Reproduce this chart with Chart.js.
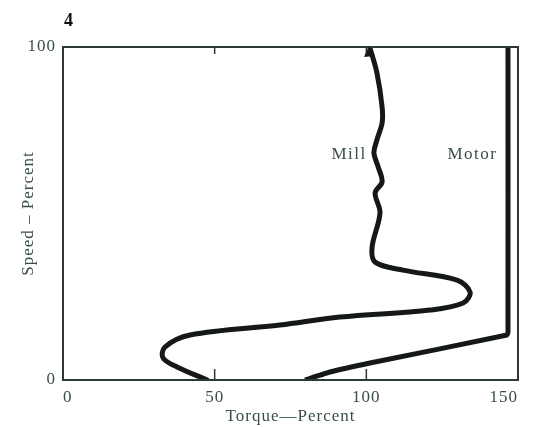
<!DOCTYPE html>
<html>
<head>
<meta charset="utf-8">
<script src="https://cdn.jsdelivr.net/npm/chart.js@4.4.0/dist/chart.umd.min.js"></script>
<style>
  html, body { margin: 0; padding: 0; background: #fff; }
  #wrap { width: 533px; height: 427px; }
</style>
</head>
<body>
<div id="wrap"><canvas id="speedTorque"></canvas></div>
<script>
// curva do moinho (torque %, velocidade %)
const millTorque = [47.5, 37.6, 33.0, 33.6, 41.9, 71.5, 91.3, 121.0, 131.9, 134.2, 129.9, 112.1, 102.9, 101.9, 104.5, 102.9, 105.2, 103.9, 102.5, 103.5, 105.2, 105.2, 103.5, 101.2];
const millSpeed  = [0, 3.9, 6.6, 9.9, 13.5, 16.5, 18.9, 21.0, 23.1, 26.4, 30.0, 33.0, 35.4, 39.9, 50.2, 56.2, 59.5, 64.0, 68.2, 72.1, 77.2, 82.0, 92.2, 99.7];

// curva do motor
const motorTorque = [79.8, 88.0, 101.2, 146.4, 146.7, 146.7];
const motorSpeed  = [0, 2.4, 5.1, 13.5, 14.4, 100];

const xTicks = [0, 50, 100, 150];
const yTicks = [0, 100];

const curveLabels  = ['Mill', 'Motor'];
const curveLabelX  = [94.3, 135.0];
const curveLabelY  = [67.6, 67.6];

const inkColor = '#151915';
const axisColor = '#2e3b32';
const textColor = '#3a5043';
const serif = "'Liberation Serif', 'DejaVu Serif', serif";

function toPoints(xs, ys) {
  return xs.map((x, i) => ({ x: x, y: ys[i] }));
}

// espaçamento entre letras, como no original impresso
const spacingPlugin = {
  id: 'spacing',
  beforeLayout(chart) { chart.ctx.letterSpacing = '1px'; },
  beforeDraw(chart) { chart.ctx.letterSpacing = '1px'; }
};

// moldura, tiques internos, setas e rótulos
const framePlugin = {
  id: 'frame',
  afterDatasetsDraw(chart) {
    const { ctx, chartArea, scales } = chart;
    const xs = scales.x, ys = scales.y;
    ctx.save();
    ctx.strokeStyle = axisColor;
    ctx.lineWidth = 2;
    ctx.strokeRect(chartArea.left, chartArea.top, chartArea.right - chartArea.left, chartArea.bottom - chartArea.top);

    // tiques para dentro em 50 e 100
    ctx.lineWidth = 1.5;
    [50, 100].forEach(v => {
      const px = xs.getPixelForValue(v);
      ctx.beginPath();
      ctx.moveTo(px, chartArea.bottom);
      ctx.lineTo(px, chartArea.bottom - 11);
      ctx.moveTo(px, chartArea.top);
      ctx.lineTo(px, chartArea.top + 7);
      ctx.stroke();
    });

    // seta no topo da curva do moinho
    const meta = chart.getDatasetMeta(0);
    const last = meta.data[meta.data.length - 1];
    ctx.fillStyle = inkColor;
    ctx.beginPath();
    ctx.moveTo(last.x - 1, last.y - 2);
    ctx.lineTo(last.x - 6, last.y + 9);
    ctx.lineTo(last.x + 5, last.y + 8);
    ctx.closePath();
    ctx.fill();

    // rótulos das curvas
    ctx.fillStyle = textColor;
    ctx.letterSpacing = '1.5px';
    ctx.font = '17px ' + serif;
    ctx.textAlign = 'center';
    ctx.textBaseline = 'middle';
    curveLabels.forEach((t, i) => {
      ctx.fillText(t, xs.getPixelForValue(curveLabelX[i]), ys.getPixelForValue(curveLabelY[i]));
    });

    // número da figura
    ctx.letterSpacing = '0px';
    ctx.fillStyle = '#111';
    ctx.font = 'bold 18px ' + serif;
    ctx.textAlign = 'left';
    ctx.fillText('4', chartArea.left + 1, 21);
    ctx.restore();
  }
};

const ctx = document.getElementById('speedTorque').getContext('2d');
new Chart(ctx, {
  type: 'scatter',
  data: {
    datasets: [
      {
        label: 'Mill',
        data: toPoints(millTorque, millSpeed),
        showLine: true,
        borderColor: inkColor,
        borderWidth: 5,
        pointRadius: 0,
        tension: 0.35,
        borderCapStyle: 'round',
        borderJoinStyle: 'round'
      },
      {
        label: 'Motor',
        data: toPoints(motorTorque, motorSpeed),
        showLine: true,
        borderColor: inkColor,
        borderWidth: 5,
        pointRadius: 0,
        tension: 0.1,
        borderJoinStyle: 'round'
      }
    ]
  },
  options: {
    responsive: true,
    maintainAspectRatio: false,
    animation: false,
    layout: { padding: { top: 47, right: 15, left: 0, bottom: 0 } },
    plugins: {
      legend: { display: false },
      tooltip: { enabled: false }
    },
    scales: {
      x: {
        type: 'linear',
        min: 0,
        max: 150,
        afterBuildTicks: s => { s.ticks = xTicks.map(v => ({ value: v })); },
        afterFit: s => { s.height = 47; },
        grid: { display: false, drawTicks: false },
        border: { display: false },
        ticks: {
          align: 'inner',
          padding: 7,
          color: textColor,
          font: { family: serif, size: 17 }
        },
        title: {
          display: true,
          text: 'Torque—Percent',
          color: textColor,
          font: { family: serif, size: 17 },
          padding: { top: 0, bottom: 0 }
        }
      },
      y: {
        type: 'linear',
        min: 0,
        max: 100,
        afterBuildTicks: s => { s.ticks = yTicks.map(v => ({ value: v })); },
        afterFit: s => { s.width = 63; },
        grid: { display: false, drawTicks: false },
        border: { display: false },
        ticks: {
          padding: 7,
          color: textColor,
          font: { family: serif, size: 17 }
        },
        title: {
          display: true,
          text: 'Speed – Percent',
          color: textColor,
          font: { family: serif, size: 17 },
          padding: { top: 18, bottom: 0 }
        }
      }
    }
  },
  plugins: [spacingPlugin, framePlugin]
});
</script>
</body>
</html>
